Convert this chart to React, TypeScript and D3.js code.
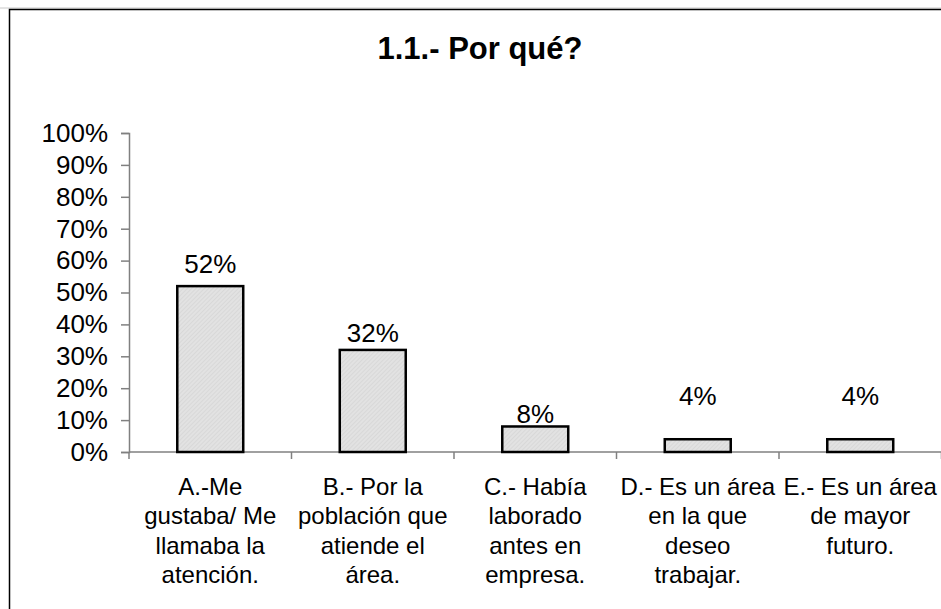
import React, { useEffect, useRef } from "react";
import * as d3 from "d3";

// datos
const categories = ["A", "B", "C", "D", "E"];
const categoryLines = [
  ["A.-Me", "gustaba/ Me", "llamaba la", "atención."],
  ["B.- Por la", "población que", "atiende el", "área."],
  ["C.- Había", "laborado", "antes en", "empresa."],
  ["D.- Es un área", "en la que", "deseo", "trabajar."],
  ["E.- Es un área", "de mayor", "futuro."],
];
const values = [52, 32, 8, 4, 4];
const yTicks = [0, 10, 20, 30, 40, 50, 60, 70, 80, 90, 100];
const title = "1.1.- Por qué?";

const WIDTH = 941;
const HEIGHT = 609;
const FONT = "'Liberation Sans', Arial, Helvetica, sans-serif";

// distancia entre etiqueta y barra (como la dejó Excel)
const labelGap = [13, 8, 3, 34, 34];

export default function App() {
  const yAxisRef = useRef<SVGGElement>(null);

  const x = d3
    .scaleBand<string>()
    .domain(categories)
    .range([129, 941.5])
    .paddingInner(0.594)
    .paddingOuter(0.297);

  const y = d3.scaleLinear().domain([0, 100]).range([452, 133]);

  useEffect(() => {
    document.body.style.margin = "0";
  }, []);

  useEffect(() => {
    const g = d3.select(yAxisRef.current);
    g.call(
      d3
        .axisLeft(y)
        .tickValues(yTicks)
        .tickSize(8)
        .tickPadding(13)
        .tickFormat((d) => `${d}%`)
    );
    g.selectAll(".domain").attr("stroke", "#808080").attr("stroke-width", 1.5);
    g.selectAll(".tick line").attr("stroke", "#808080").attr("stroke-width", 1.5);
    g.selectAll(".tick text")
      .attr("fill", "#000")
      .attr("font-size", 26)
      .attr("font-family", FONT);
    g.attr("font-family", FONT);
  }, []);

  const step = x.step();
  const boundaries = categories.map((_, i) => 129 + i * step).concat([941.5]);

  return (
    <svg width={WIDTH} height={HEIGHT} style={{ display: "block" }}>
      <defs>
        <pattern id="hatch" width="3" height="3" patternUnits="userSpaceOnUse" patternTransform="rotate(45)">
          <rect width="3" height="3" fill="#e2e2e2" />
          <line x1="0" y1="0" x2="0" y2="3" stroke="#cfcfcf" strokeWidth="1" />
        </pattern>
      </defs>
      <rect width={WIDTH} height={HEIGHT} fill="#fff" />
      <line x1={0} x2={WIDTH} y1={8} y2={8} stroke="#c8c8c8" strokeWidth={1} />
      <rect x={9.5} y={9.5} width={WIDTH + 20} height={HEIGHT + 20} fill="none" stroke="#000" strokeWidth={1.5} />

      <text
        x={480}
        y={59}
        textAnchor="middle"
        fontFamily={FONT}
        fontWeight="bold"
        fontSize={31}
      >
        {title}
      </text>

      <g ref={yAxisRef} transform="translate(129,0)" />

      {/* eje x */}
      <line x1={129} x2={941.5} y1={y(0)} y2={y(0)} stroke="#808080" strokeWidth={1.5} />
      {boundaries.map((bx, i) => (
        <line key={i} x1={bx} x2={bx} y1={y(0)} y2={y(0) + 7} stroke="#808080" strokeWidth={1.5} />
      ))}

      {categories.map((c, i) => (
        <rect
          key={c}
          x={x(c)}
          y={y(values[i])}
          width={x.bandwidth()}
          height={y(0) - y(values[i])}
          fill="url(#hatch)"
          stroke="#000"
          strokeWidth={2.5}
        />
      ))}

      {categories.map((c, i) => (
        <text
          key={c}
          x={(x(c) ?? 0) + x.bandwidth() / 2}
          y={y(values[i]) - labelGap[i]}
          textAnchor="middle"
          fontFamily={FONT}
          fontSize={26}
        >
          {`${values[i]}%`}
        </text>
      ))}

      {categories.map((c, i) => (
        <text
          key={c}
          x={(x(c) ?? 0) + x.bandwidth() / 2}
          y={495}
          textAnchor="middle"
          fontFamily={FONT}
          fontSize={24}
        >
          {categoryLines[i].map((line, j) => (
            <tspan key={j} x={(x(c) ?? 0) + x.bandwidth() / 2} dy={j === 0 ? 0 : 29.3}>
              {line}
            </tspan>
          ))}
        </text>
      ))}
    </svg>
  );
}
